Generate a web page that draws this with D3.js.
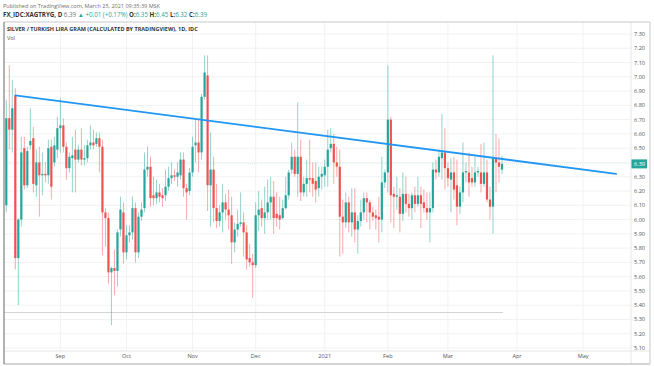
<!DOCTYPE html>
<html><head><meta charset="utf-8">
<script src="https://cdn.jsdelivr.net/npm/d3@7"></script>
<style>html,body{margin:0;padding:0;background:#fff}svg{display:block;font-family:"Open Sans","Liberation Sans",sans-serif}</style>
</head><body><svg id="c" width="654" height="366"></svg>
<script>
const startDate = new Date(2020, 7, 6); // first bar: Aug 6, 2020 (weekday bars)
const open = [6.10,6.71,6.63,6.87,5.73,6.00,6.50,6.24,6.52,6.57,
6.24,6.40,6.31,6.32,6.31,6.51,6.40,6.49,6.64,6.66,
6.51,6.36,6.43,6.49,6.42,6.49,6.42,6.43,6.52,6.54,
6.53,6.57,6.51,6.05,6.01,5.63,5.66,5.64,5.93,6.05,
5.77,5.89,5.91,6.08,5.77,6.02,6.08,6.35,6.37,6.17,
6.15,6.19,6.17,6.17,6.23,6.29,6.31,6.30,6.31,6.42,
6.22,6.20,6.33,6.52,6.54,6.47,6.86,7.01,6.24,6.35,
6.08,5.99,6.05,6.12,6.07,6.03,5.84,5.93,5.97,5.98,
5.91,5.73,5.70,5.68,6.03,6.08,6.01,6.05,6.12,6.16,
6.04,6.03,6.01,6.08,6.17,6.35,6.44,6.32,6.44,6.19,
6.25,6.29,6.29,6.27,6.22,6.30,6.31,6.37,6.50,6.53,
6.40,6.37,6.02,5.98,6.12,5.98,6.05,5.93,5.99,6.05,
6.15,6.12,6.05,6.03,6.02,6.00,6.26,6.33,6.70,6.18,
6.16,6.16,6.04,6.18,6.11,6.08,6.17,6.11,6.17,6.12,
6.08,6.05,6.08,6.35,6.33,6.43,6.47,6.36,6.28,6.33,
6.24,6.09,6.19,6.33,6.33,6.29,6.26,6.33,6.33,6.25,
6.33,6.14,6.09,6.43,6.40,6.35];
const high = [6.84,7.08,6.98,6.92,6.01,6.58,6.58,6.51,6.78,6.65,
6.49,6.51,6.47,6.40,6.56,6.56,6.58,6.72,6.85,6.71,
6.54,6.47,6.58,6.63,6.52,6.64,6.52,6.56,6.66,6.63,
6.61,6.61,6.56,6.08,6.05,5.67,5.79,5.93,6.16,6.12,
5.96,5.96,6.16,6.12,6.05,6.12,6.47,6.51,6.44,6.30,
6.28,6.25,6.22,6.35,6.37,6.40,6.35,6.40,6.47,6.47,
6.25,6.36,6.58,6.70,6.70,6.88,7.15,7.15,6.61,6.44,
6.25,6.10,6.25,6.18,6.21,6.16,5.98,6.07,6.19,6.05,
5.96,5.83,5.76,6.12,6.20,6.14,6.23,6.28,6.30,6.27,
6.19,6.16,6.14,6.30,6.35,6.54,6.49,6.82,6.56,6.30,
6.42,6.56,6.40,6.40,6.37,6.37,6.42,6.63,6.64,6.60,
6.51,6.49,6.14,6.19,6.16,6.22,6.22,6.03,6.14,6.19,
6.19,6.14,6.09,6.07,6.16,6.44,6.35,7.08,6.72,6.23,
6.30,6.22,6.33,6.30,6.18,6.19,6.23,6.30,6.23,6.21,
6.19,6.19,6.40,6.42,6.49,6.74,6.64,6.40,6.43,6.44,
6.42,6.23,6.54,6.40,6.47,6.37,6.44,6.37,6.53,6.54,
6.42,6.23,7.15,6.60,6.57,6.45];
const low = [6.05,6.49,6.47,5.65,5.40,5.95,6.21,6.22,6.49,6.19,
6.16,6.02,6.17,6.26,6.25,6.14,6.37,6.43,6.47,6.47,
6.28,6.33,6.19,6.19,6.40,6.38,6.38,6.40,6.49,6.49,
6.51,6.33,5.75,5.81,5.55,5.26,5.47,5.53,5.88,5.69,
5.72,5.84,5.86,5.70,5.73,5.99,6.05,6.30,6.09,6.10,
6.11,6.12,6.09,6.13,6.20,6.25,6.27,6.23,6.28,6.16,
6.00,6.17,6.30,6.40,6.33,6.42,6.84,6.06,5.95,5.98,
5.94,5.95,5.91,6.00,5.93,5.69,5.77,5.88,5.95,5.74,
5.65,5.67,5.45,5.66,5.92,5.95,5.90,6.00,6.00,5.90,
5.95,5.93,6.00,6.07,6.14,6.32,6.30,6.16,6.13,6.16,
6.16,6.19,6.16,6.12,6.16,6.21,6.23,6.23,6.47,6.25,
6.30,5.74,5.76,5.94,5.91,5.88,5.84,5.76,5.95,6.00,
5.98,5.93,5.99,5.93,5.84,5.91,6.22,6.19,5.98,5.94,
6.07,5.91,5.99,6.05,6.02,6.00,6.05,6.09,5.94,6.05,
6.00,5.84,6.05,6.28,6.30,6.28,6.21,6.23,6.05,6.14,
5.96,6.04,6.12,6.26,6.16,6.23,6.23,6.30,6.19,6.23,
6.12,6.00,5.90,6.19,6.26,6.32];
const close = [6.71,6.63,6.78,5.73,6.00,6.47,6.24,6.48,6.55,6.25,
6.40,6.31,6.32,6.31,6.50,6.23,6.52,6.64,6.66,6.51,
6.36,6.44,6.45,6.42,6.49,6.42,6.43,6.52,6.54,6.52,
6.57,6.51,6.05,6.01,5.63,5.66,5.64,5.91,6.07,5.77,
5.89,5.91,6.08,5.77,6.02,6.07,6.35,6.37,6.15,6.15,
6.19,6.16,6.15,6.23,6.29,6.31,6.30,6.33,6.42,6.22,
6.19,6.33,6.51,6.54,6.47,6.86,7.03,6.24,6.35,6.08,
5.99,6.05,6.12,6.07,6.03,5.84,5.93,5.97,5.98,5.91,
5.72,5.70,5.68,6.03,6.07,6.01,6.05,6.12,6.16,6.01,
6.01,6.00,6.08,6.17,6.33,6.44,6.32,6.44,6.19,6.25,
6.29,6.28,6.25,6.21,6.30,6.32,6.37,6.49,6.53,6.40,
6.37,6.02,5.98,6.12,5.98,6.05,5.93,5.99,6.05,6.15,
6.12,6.05,6.02,6.01,6.00,6.26,6.33,6.70,6.17,6.16,
6.17,6.04,6.18,6.11,6.08,6.17,6.11,6.17,6.11,6.08,
6.05,6.08,6.35,6.33,6.44,6.47,6.36,6.29,6.33,6.21,
6.09,6.19,6.33,6.34,6.26,6.26,6.33,6.34,6.25,6.33,
6.14,6.09,6.43,6.40,6.37,6.39];
const yTickLabels = ["5.10","5.20","5.30","5.40","5.50","5.60","5.70","5.80","5.90","6.00","6.10","6.20","6.30","6.40","6.50","6.60","6.70","6.80","6.90","7.00","7.10","7.20","7.30"];
const monthNames = ["2021","Feb","Mar","Apr","May","Jun","Jul","Aug","Sep","Oct","Nov","Dec"];
const trendBars = [3, 203];
const trendValues = [6.87, 6.32];
const lastPrice = 6.39;

const svg = d3.select("#c");
const W = 654, H = 366;
const plotL = 4, plotR = 631, plotT = 22, plotB = 351, frameR = 650, frameB = 364;
const UP = "#26a69a", DN = "#ef5350";

// trading calendar (weekdays), extended into the future for the axis
const days = d3.timeDay.range(startDate, new Date(2021, 5, 1)).filter(d => d.getDay() !== 0 && d.getDay() !== 6);
const n = close.length;
const x = d3.scaleLinear().domain([0, n - 1]).range([6.3, 502]);
const y = d3.scaleLinear().domain([5.10, 7.30]).range([348, 34]);

svg.append("rect").attr("width", W).attr("height", H).attr("fill", "#fff");

// header
svg.append("text").attr("x", 3).attr("y", 7.5).attr("font-size", 5.5).attr("fill", "#6f6f6f")
  .text("Published on TradingView.com, March 25, 2021 09:35:39 MSK");
const h2 = svg.append("text").attr("x", 3).attr("y", 16.5).attr("font-size", 6.2).attr("fill", "#333");
h2.append("tspan").attr("font-weight", "bold").text("FX_IDC:XAGTRYG, D ");
h2.append("tspan").attr("fill", "#777").text("6.39 ");
h2.append("tspan").attr("fill", UP).text("▲ +0.01 (+0.17%) ");
[["O:", "6.35"], ["H:", "6.45"], ["L:", "6.32"], ["C:", "6.39"]].forEach(([k, v]) => {
  h2.append("tspan").attr("font-weight", "bold").attr("fill", "#333").text(k);
  h2.append("tspan").attr("fill", UP).text(v + " ");
});

const defs = svg.append("defs");
defs.append("clipPath").attr("id", "plot").append("rect")
  .attr("x", plotL).attr("y", plotT).attr("width", plotR - plotL).attr("height", plotB - plotT);

// grid
const g = svg.append("g").attr("clip-path", "url(#plot)");
yTickLabels.forEach(t => {
  g.append("line").attr("x1", plotL).attr("x2", plotR).attr("y1", y(+t)).attr("y2", y(+t))
    .attr("stroke", "#f1f2f5").attr("stroke-width", 1);
});
const monthTicks = [];
for (let i = 1; i < days.length; i++) {
  if (days[i].getMonth() !== days[i - 1].getMonth()) monthTicks.push(i);
}
monthTicks.forEach(i => {
  g.append("line").attr("x1", x(i)).attr("x2", x(i)).attr("y1", plotT).attr("y2", plotB)
    .attr("stroke", "#f1f2f5").attr("stroke-width", 1);
});

// volume baseline (no volume for this FX symbol)
const yVol = d3.scaleLinear().domain([0, 1]).range([312.5, 280]);
g.append("line").attr("x1", plotL).attr("x2", x(n - 1) + 1).attr("y1", yVol(0)).attr("y2", yVol(0))
  .attr("stroke", "#d4d4d4").attr("stroke-width", 1);

// last price line
g.append("line").attr("x1", plotL).attr("x2", plotR).attr("y1", y(lastPrice)).attr("y2", y(lastPrice))
  .attr("stroke", UP).attr("stroke-opacity", 0.22).attr("stroke-width", 0.8).attr("stroke-dasharray", "1,1");

// candles
const idx = d3.range(n);
g.selectAll(".wick").data(idx).join("line")
  .attr("x1", i => x(i)).attr("x2", i => x(i))
  .attr("y1", i => y(high[i])).attr("y2", i => y(low[i]))
  .attr("stroke", i => close[i] >= open[i] ? UP : DN).attr("stroke-opacity", 0.55).attr("stroke-width", 0.9);
g.selectAll(".body").data(idx).join("rect")
  .attr("x", i => x(i) - 1.1).attr("width", 2.2)
  .attr("y", i => y(Math.max(open[i], close[i])))
  .attr("height", i => Math.max(0.8, Math.abs(y(open[i]) - y(close[i]))))
  .attr("fill", i => close[i] >= open[i] ? UP : DN);

// trend line
g.append("line").attr("x1", x(trendBars[0])).attr("y1", y(trendValues[0]))
  .attr("x2", x(trendBars[1])).attr("y2", y(trendValues[1]))
  .attr("stroke", "#2196f3").attr("stroke-width", 1.8).attr("stroke-linecap", "round");

// title in pane
svg.append("text").attr("x", 7).attr("y", 31).attr("font-size", 5.5).attr("font-weight", "bold").attr("fill", "#333")
  .text("SILVER / TURKISH LIRA GRAM (CALCULATED BY TRADINGVIEW), 1D, IDC");
svg.append("text").attr("x", 7).attr("y", 39.5).attr("font-size", 5.5).attr("fill", "#555").text("Vol");

// y axis labels
yTickLabels.forEach(t => {
  svg.append("text").attr("x", 634).attr("y", y(+t)).attr("dy", "0.35em")
    .attr("font-size", 5.6).attr("fill", "#555").text(t);
});
// last price tag
svg.append("rect").attr("x", 631).attr("y", y(lastPrice) - 4.5).attr("width", 16).attr("height", 9).attr("fill", UP);
svg.append("text").attr("x", 634).attr("y", y(lastPrice)).attr("dy", "0.35em")
  .attr("font-size", 5.6).attr("fill", "#fff").text(lastPrice.toFixed(2));

// x axis labels
monthTicks.filter(i => x(i) > plotL + 5 && x(i) < plotR - 5).forEach(i => {
  svg.append("text").attr("x", x(i)).attr("y", 358).attr("text-anchor", "middle")
    .attr("font-size", 5.6).attr("fill", "#555").text(monthNames[days[i].getMonth()]);
});

// frame & separators
svg.append("line").attr("x1", plotR).attr("x2", plotR).attr("y1", plotT).attr("y2", frameB).attr("stroke", "#e6e6e6");
svg.append("line").attr("x1", plotL).attr("x2", frameR).attr("y1", plotB).attr("y2", plotB).attr("stroke", "#e6e6e6");
svg.append("line").attr("x1", plotL).attr("x2", frameR).attr("y1", plotT).attr("y2", plotT).attr("stroke", "#c9c9c9");
svg.append("line").attr("x1", plotL).attr("x2", frameR).attr("y1", frameB).attr("y2", frameB).attr("stroke", "#a9a9a9");
svg.append("line").attr("x1", frameR).attr("x2", frameR).attr("y1", plotT).attr("y2", frameB).attr("stroke", "#c9c9c9");
svg.append("line").attr("x1", plotL).attr("x2", plotL).attr("y1", plotT).attr("y2", frameB).attr("stroke", "#999").attr("stroke-width", 1.5);
</script></body></html>
